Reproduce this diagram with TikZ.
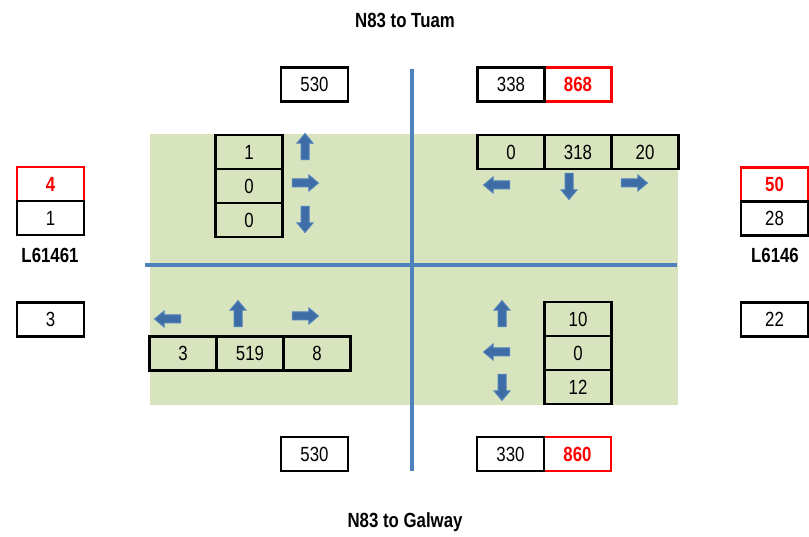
\documentclass[tikz,border=0pt]{standalone}
\usepackage{fontspec}
\setmainfont{Liberation Sans}[FakeStretch=0.82]
\usetikzlibrary{positioning,shapes.arrows}
\definecolor{roadblue}{HTML}{4F81BD}
\definecolor{arrowblue}{HTML}{3E6CA5}
\definecolor{lawn}{HTML}{D7E4BD}
\definecolor{hotred}{HTML}{FF0000}
\begin{document}
\begin{tikzpicture}[
        x=1pt, y=-1pt,
        every node/.style={font=\fontsize{20.5}{24}\selectfont},
        cell/.style={draw, line width=2.5pt, minimum width=67pt, minimum height=34pt, inner sep=0pt, outer sep=0pt},
        hot/.style={cell, draw=hotred, text=hotred, font=\fontsize{20.5}{24}\selectfont\bfseries},
        title/.style={font=\fontsize{20.5}{24}\selectfont\bfseries},
        road/.style={draw=roadblue, line width=4pt},
        mv/.style={single arrow, draw=roadblue, fill=arrowblue, line width=1pt, minimum height=26pt, single arrow head extend=4pt, single arrow tip angle=80, inner sep=3.5pt},
        mvup/.style={mv, shape border rotate=90},
        mvdown/.style={mv, shape border rotate=270},
        mvleft/.style={mv, shape border rotate=180},
        mvright/.style={mv},
    ]
    \useasboundingbox (0,0) rectangle (809,537);

    % junction area and roads
    \fill[lawn] (150,134) rectangle (678,405);
    \coordinate (n) at (412,69);
    \coordinate (s) at (412,471);
    \coordinate (w) at (145,265);
    \coordinate (e) at (677,265);
    \draw[road] (n) -- (s);
    \draw[road] (w) -- (e);

    % titles
    \node[title](tuam) at (405,20) {N83 to Tuam};
    \node[title](galway) at (405,522) {N83 to Galway};
    \node[title](lw) at (50,255) {L61461};
    \node[title](le) at (775,255) {L6146};

    % approach totals
    \node[cell](tn) at (314.5,84.5) {530};
    \node[hot](tsum) at (578,84.5) {868};
    \node[cell, left=0pt of tsum](ts) {338};
    \node[cell](bn) at (314.5,454) {530};
    \node[hot](bsum) at (577.5,454) {860};
    \node[cell, left=0pt of bsum](bs) {330};
    \node[hot](wsum) at (50.5,184) {4};
    \node[cell, below=0pt of wsum](wn) {1};
    \node[cell](ws) at (50.5,319.5) {3};
    \node[hot](esum) at (774.5,184.5) {50};
    \node[cell, below=0pt of esum](en) {28};
    \node[cell](es) at (774.5,319.5) {22};

    % turning counts, north-west
    \node[cell](nw1) at (249,152) {1};
    \node[cell, below=0pt of nw1](nw2) {0};
    \node[cell, below=0pt of nw2](nw3) {0};
    \node[mvup](nwa) at (305,149) {};
    \node[mvright](nwb) at (303,183) {};
    \node[mvdown](nwc) at (305,217) {};

    % north-east
    \node[cell](ne1) at (511,152) {0};
    \node[cell, right=0pt of ne1](ne2) {318};
    \node[cell, right=0pt of ne2](ne3) {20};
    \node[mvleft](nea) at (499,185) {};
    \node[mvdown](neb) at (569,184) {};
    \node[mvright](nec) at (632,183) {};

    % south-west
    \node[cell](sw1) at (183,353.5) {3};
    \node[cell, right=0pt of sw1](sw2) {519};
    \node[cell, right=0pt of sw2](sw3) {8};
    \node[mvleft](swa) at (170,319) {};
    \node[mvup](swb) at (238,316) {};
    \node[mvright](swc) at (303,316) {};

    % south-east
    \node[cell](se1) at (578,319) {10};
    \node[cell, below=0pt of se1](se2) {0};
    \node[cell, below=0pt of se2](se3) {12};
    \node[mvup](sea) at (502,316) {};
    \node[mvleft](seb) at (499,352) {};
    \node[mvdown](sec) at (502,385) {};
\end{tikzpicture}
\end{document}
